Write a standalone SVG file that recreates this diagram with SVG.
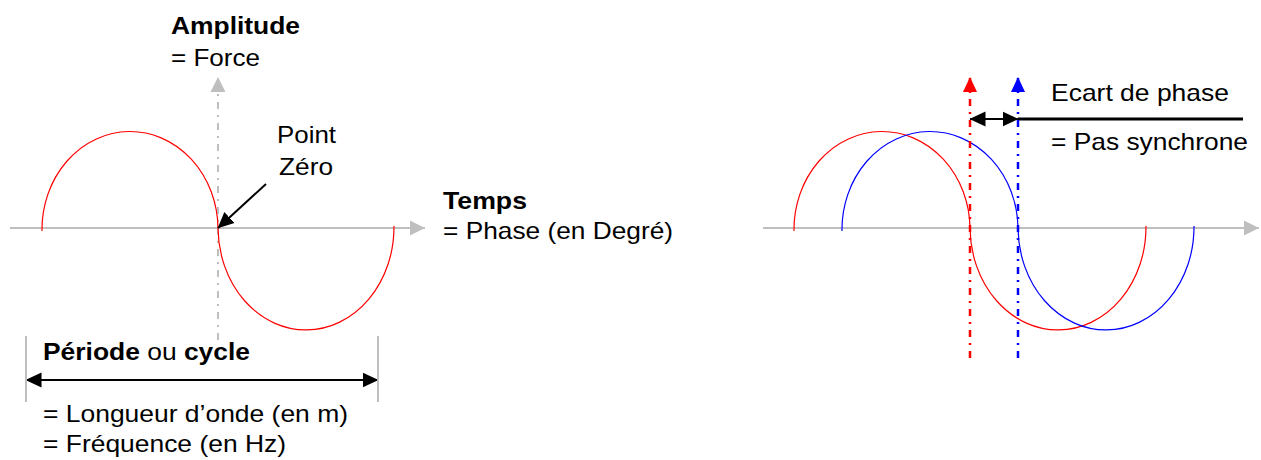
<svg xmlns="http://www.w3.org/2000/svg" width="1261" height="460" viewBox="0 0 1261 460">
<style>
text{font-family:"Liberation Sans",Arial,sans-serif;font-size:24px;fill:#000}
.b{font-weight:bold}
.axis{stroke:#bfbfbf;stroke-width:2;fill:none}
.wave{fill:none;stroke-width:1.2}
.red{stroke:#ff0000}
.blue{stroke:#0000ff}
.blk{stroke:#000;stroke-width:2;fill:none}
</style>
<defs>
<marker id="ag" markerUnits="userSpaceOnUse" markerWidth="16" markerHeight="16" viewBox="0 0 16 16" refX="15" refY="8" orient="auto"><path d="M0,0.5 L15,8 L0,15.5 Z" fill="#bfbfbf"/></marker>
<marker id="ab" markerUnits="userSpaceOnUse" markerWidth="16" markerHeight="16" viewBox="0 0 16 16" refX="15.5" refY="8" orient="auto-start-reverse"><path d="M0,0.5 L16,8 L0,15.5 Z" fill="#000"/></marker>
<marker id="ar" markerUnits="userSpaceOnUse" markerWidth="16" markerHeight="16" viewBox="0 0 16 16" refX="15" refY="8" orient="auto"><path d="M0,1 L15,8 L0,15 Z" fill="#ff0000"/></marker>
<marker id="au" markerUnits="userSpaceOnUse" markerWidth="16" markerHeight="16" viewBox="0 0 16 16" refX="15" refY="8" orient="auto"><path d="M0,1 L15,8 L0,15 Z" fill="#0000ff"/></marker>
</defs>

<g id="left-axes">
<line class="axis" x1="10" y1="228" x2="425" y2="228" marker-end="url(#ag)"/>
<line class="axis" x1="218" y1="340" x2="218" y2="77" stroke-dasharray="7,6,2,6" marker-end="url(#ag)"/>
</g>
<g id="left-wave">
<path class="wave red" d="M42,231 A88,98 0 0 1 218,228 A88,103 0 0 0 394,226"/>
</g>
<g id="connectors">
<line class="blk" x1="266" y1="184" x2="218" y2="228" marker-end="url(#ab)"/>
<line class="blk" x1="26" y1="380" x2="378" y2="380" marker-start="url(#ab)" marker-end="url(#ab)"/>
<line class="blk" x1="970" y1="119" x2="1018" y2="119" marker-start="url(#ab)" marker-end="url(#ab)"/>
<line stroke="#000" stroke-width="3" x1="1018" y1="119" x2="1243" y2="119"/>
</g>
<g id="period-bounds">
<line class="axis" x1="26" y1="336" x2="26" y2="402"/>
<line class="axis" x1="378" y1="336" x2="378" y2="402"/>
</g>
<g id="left-labels">
<text class="b" x="171" y="34" textLength="129" lengthAdjust="spacingAndGlyphs">Amplitude</text>
<text x="171" y="66" textLength="89" lengthAdjust="spacingAndGlyphs">= Force</text>
<text x="277" y="143" textLength="59" lengthAdjust="spacingAndGlyphs">Point</text>
<text x="279" y="175" textLength="54" lengthAdjust="spacingAndGlyphs">Zéro</text>
<text class="b" x="443" y="209" textLength="84" lengthAdjust="spacingAndGlyphs">Temps</text>
<text x="443" y="239" textLength="230" lengthAdjust="spacingAndGlyphs">= Phase (en Degré)</text>
<text x="43" y="360" textLength="207" lengthAdjust="spacingAndGlyphs"><tspan class="b">Période</tspan> ou <tspan class="b">cycle</tspan></text>
<text x="43" y="421.5" textLength="305" lengthAdjust="spacingAndGlyphs">= Longueur d’onde (en m)</text>
<text x="43" y="451.5" textLength="243" lengthAdjust="spacingAndGlyphs">= Fréquence (en Hz)</text>
</g>

<g id="right-axes">
<line class="axis" x1="763" y1="228" x2="1259" y2="228" marker-end="url(#ag)"/>
</g>
<g id="right-waves">
<path class="wave red" d="M794,231 A88,98 0 0 1 970,228 A88,103 0 0 0 1146,226"/>
<path class="wave blue" d="M842,231 A88,98 0 0 1 1018,228 A88,103 0 0 0 1194,226"/>
</g>
<g id="phase-markers">
<line stroke="#ff0000" stroke-width="2.5" x1="970" y1="358" x2="970" y2="77" stroke-dasharray="7,6,2,6" marker-end="url(#ar)"/>
<line stroke="#0000ff" stroke-width="2.5" x1="1018" y1="358" x2="1018" y2="77" stroke-dasharray="7,6,2,6" marker-end="url(#au)"/>
</g>
<g id="right-labels">
<text x="1051" y="101" textLength="178" lengthAdjust="spacingAndGlyphs">Ecart de phase</text>
<text x="1051" y="150" textLength="197" lengthAdjust="spacingAndGlyphs">= Pas synchrone</text>
</g>
</svg>
